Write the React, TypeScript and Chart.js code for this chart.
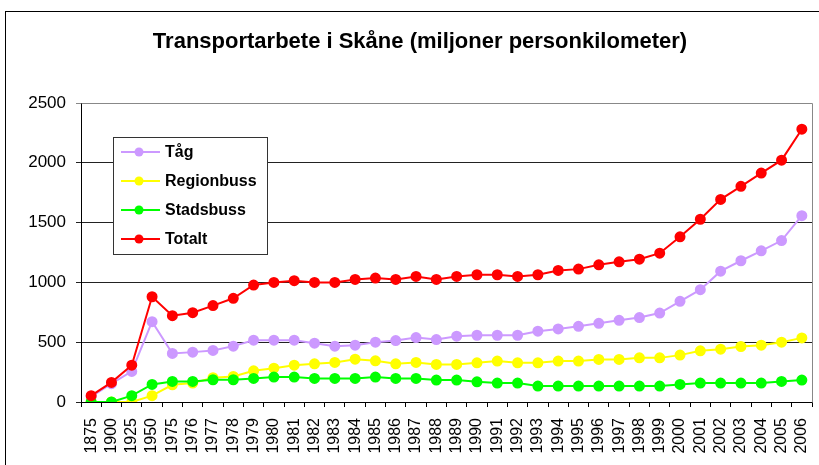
import React, { useEffect, useRef } from "react";
import { Chart, registerables } from "chart.js";

Chart.register(...registerables);

const years = [
  "1875", "1900", "1925", "1950", "1975", "1976", "1977", "1978", "1979", "1980",
  "1981", "1982", "1983", "1984", "1985", "1986", "1987", "1988", "1989", "1990",
  "1991", "1992", "1993", "1994", "1995", "1996", "1997", "1998", "1999", "2000",
  "2001", "2002", "2003", "2004", "2005", "2006",
];

const tag = [
  45, 153, 256, 672, 406, 417, 431, 467, 517, 517,
  517, 492, 467, 475, 500, 514, 539, 522, 550, 558,
  558, 558, 592, 611, 633, 658, 683, 706, 744, 842,
  939, 1094, 1181, 1264, 1350, 1558,
];

const regionbuss = [
  0, 0, 0, 53, 144, 158, 203, 214, 261, 283,
  308, 319, 331, 358, 344, 319, 331, 314, 314, 328,
  342, 328, 328, 342, 342, 356, 356, 369, 369, 392,
  428, 442, 464, 475, 500, 536,
];

const stadsbuss = [
  0, 0, 53, 147, 172, 172, 186, 186, 197, 208,
  208, 197, 197, 197, 208, 197, 197, 183, 183, 169,
  158, 158, 133, 133, 133, 133, 133, 133, 133, 147,
  158, 158, 158, 158, 172, 183,
];

const totalt = [
  53, 164, 308, 880, 722, 747, 806, 867, 978, 1000,
  1014, 1000, 1000, 1025, 1036, 1025, 1050, 1025, 1050, 1064,
  1064, 1050, 1064, 1100, 1111, 1147, 1172, 1194, 1244, 1381,
  1528, 1694, 1803, 1914, 2022, 2281,
];

const seriesNames = ["Tåg", "Regionbuss", "Stadsbuss", "Totalt"];
const seriesColors = ["#CC99FF", "#FFFF00", "#00FF00", "#FF0000"];
const titleText = "Transportarbete i Skåne (miljoner personkilometer)";
const FONT = "'Liberation Sans', Arial, sans-serif";

const decorPlugin = {
  id: "decor",
  beforeDraw(chart: any) {
    const ctx = chart.ctx;
    ctx.save();
    ctx.fillStyle = "#fff";
    ctx.fillRect(0, 0, chart.width, chart.height);
    ctx.restore();
  },
  afterDraw(chart: any) {
    const ctx = chart.ctx;
    const ca = chart.chartArea;
    ctx.save();
    // outer frame
    ctx.strokeStyle = "#000";
    ctx.lineWidth = 1;
    ctx.strokeRect(5.5, 11.5, 900, 600);
    // plot border right/top
    ctx.strokeStyle = "#888";
    ctx.beginPath();
    ctx.moveTo(Math.round(ca.left) + 0.5, Math.round(ca.top) + 0.5);
    ctx.lineTo(Math.round(ca.right) + 0.5, Math.round(ca.top) + 0.5);
    ctx.lineTo(Math.round(ca.right) + 0.5, Math.round(ca.bottom) + 0.5);
    ctx.stroke();
    // title
    ctx.fillStyle = "#000";
    ctx.font = `bold 22px ${FONT}`;
    ctx.textAlign = "center";
    ctx.textBaseline = "middle";
    ctx.fillText(titleText, 420, 42);
    // legend
    const bx = 113, by = 137, bw = 154, bh = 117;
    ctx.fillStyle = "#fff";
    ctx.fillRect(bx, by, bw, bh);
    ctx.strokeStyle = "#333";
    ctx.strokeRect(bx + 0.5, by + 0.5, bw, bh);
    const rows = [152, 181, 210, 239];
    ctx.font = `bold 16px ${FONT}`;
    ctx.textAlign = "left";
    seriesNames.forEach((name, i) => {
      const y = rows[i];
      ctx.strokeStyle = seriesColors[i];
      ctx.lineWidth = 2;
      ctx.beginPath();
      ctx.moveTo(121, y);
      ctx.lineTo(160, y);
      ctx.stroke();
      ctx.fillStyle = seriesColors[i];
      ctx.beginPath();
      ctx.arc(139, y, 4.5, 0, Math.PI * 2);
      ctx.fill();
      ctx.fillStyle = "#000";
      ctx.fillText(name, 165, y + 1);
    });
    ctx.restore();
  },
};

export default function App() {
  const ref = useRef<HTMLCanvasElement>(null);
  useEffect(() => {
    document.body.style.margin = "0";
    const seriesData = [tag, regionbuss, stadsbuss, totalt];
    const chart = new Chart(ref.current!, {
      type: "line",
      data: {
        labels: years,
        datasets: seriesData.map((d, i) => ({
          label: seriesNames[i],
          data: d,
          borderColor: seriesColors[i],
          backgroundColor: seriesColors[i],
          pointBackgroundColor: seriesColors[i],
          pointBorderColor: seriesColors[i],
          pointRadius: 4.5,
          borderWidth: 2,
          tension: 0,
          order: 4 - i,
        })),
      },
      options: {
        responsive: false,
        animation: false,
        layout: { padding: { top: 103, right: 7, left: 0, bottom: 0 } },
        plugins: {
          legend: { display: false },
          title: { display: false },
          tooltip: { enabled: false },
        },
        scales: {
          x: {
            offset: true,
            grid: {
              offset: true,
              drawOnChartArea: false,
              drawTicks: true,
              tickLength: 5,
              color: "#000",
            },
            border: { color: "#000", width: 1 },
            ticks: {
              maxRotation: 90,
              minRotation: 90,
              autoSkip: false,
              padding: 11,
              color: "#000",
              font: { family: FONT, size: 16 },
            },
            afterFit(scale: any) {
              scale.height = 63;
              scale.paddingLeft = 0;
              scale.paddingRight = 0;
            },
          },
          y: {
            min: 0,
            max: 2500,
            ticks: {
              stepSize: 500,
              padding: 10,
              color: "#000",
              font: { family: FONT, size: 17 },
              callback: (v: any) => String(v),
            },
            grid: {
              color: (c: any) => (c.tick && c.tick.value === 2500 ? "#888" : "#222"),
              tickLength: 5,
              drawTicks: true,
            },
            border: { color: "#000", width: 1 },
            afterFit(scale: any) {
              scale.width = 81;
              scale.paddingTop = 0;
              scale.paddingBottom = 0;
            },
          },
        },
      },
      plugins: [decorPlugin],
    });
    return () => chart.destroy();
  }, []);
  return <canvas ref={ref} width={819} height={465} style={{ display: "block" }} />;
}
